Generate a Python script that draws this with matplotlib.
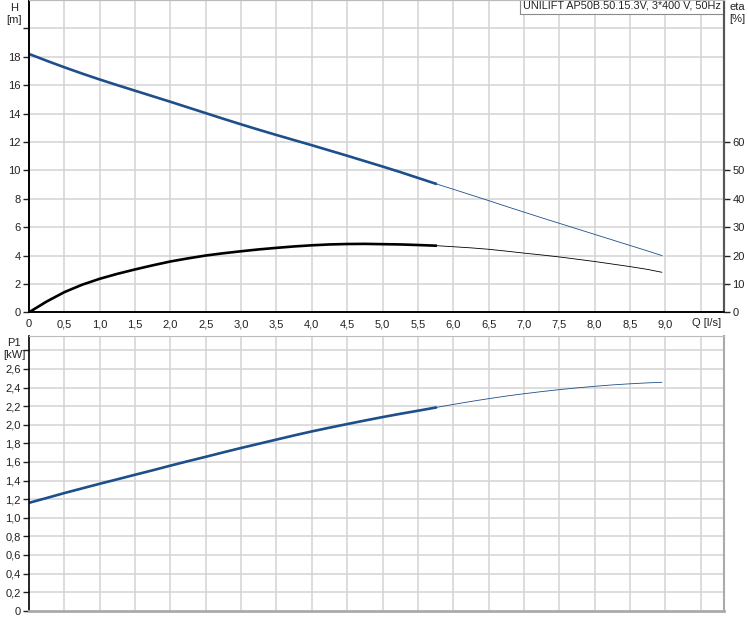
import numpy as np
import matplotlib as mpl
import matplotlib.pyplot as plt

# данные кривых насоса (расход Q, напор H, КПД eta, мощность P1)
q = np.array([0, 0.25, 0.5, 0.75, 1.0, 1.25, 1.5, 1.75, 2.0, 2.25, 2.5, 2.75,
              3.0, 3.25, 3.5, 3.75, 4.0, 4.25, 4.5, 4.75, 5.0, 5.25, 5.5, 5.77,
              6.0, 6.25, 6.5, 6.75, 7.0, 7.25, 7.5, 7.75, 8.0, 8.25, 8.5, 8.75,
              8.95])
h = np.array([18.2, 17.72, 17.26, 16.82, 16.4, 16.0, 15.61, 15.22, 14.83,
              14.43, 14.03, 13.63, 13.24, 12.86, 12.49, 12.13, 11.77, 11.4,
              11.03, 10.65, 10.27, 9.88, 9.47, 9.03, 8.67, 8.27, 7.87, 7.46,
              7.06, 6.66, 6.27, 5.88, 5.49, 5.1, 4.71, 4.32, 4.0])
eta = np.array([0, 3.8, 7.1, 9.7, 11.8, 13.55, 15.1, 16.55, 17.9, 19.0, 20.0,
                20.8, 21.5, 22.15, 22.7, 23.2, 23.6, 23.9, 24.05, 24.1, 24.0,
                23.9, 23.7, 23.45, 23.1, 22.7, 22.2, 21.55, 20.85, 20.2, 19.5,
                18.7, 17.9, 17.0, 16.1, 15.1, 14.1])
p1 = np.array([1.16, 1.212, 1.265, 1.315, 1.365, 1.413, 1.462, 1.51, 1.56,
               1.608, 1.655, 1.703, 1.75, 1.795, 1.84, 1.885, 1.928, 1.968,
               2.007, 2.045, 2.082, 2.117, 2.15, 2.187, 2.218, 2.25, 2.28,
               2.308, 2.333, 2.356, 2.377, 2.396, 2.413, 2.428, 2.44, 2.45,
               2.456])
q_duty_max = 5.77

q_ticks = [0, 0.5, 1.0, 1.5, 2.0, 2.5, 3.0, 3.5, 4.0, 4.5, 5.0, 5.5, 6.0,
           6.5, 7.0, 7.5, 8.0, 8.5, 9.0]
q_labels = ['0', '0,5', '1,0', '1,5', '2,0', '2,5', '3,0', '3,5', '4,0', '4,5',
            '5,0', '5,5', '6,0', '6,5', '7,0', '7,5', '8,0', '8,5', '9,0']
h_ticks = [0, 2, 4, 6, 8, 10, 12, 14, 16, 18, 20]
h_labels = ['0', '2', '4', '6', '8', '10', '12', '14', '16', '18', '']
eta_ticks = [0, 10, 20, 30, 40, 50, 60]
p_ticks = [0, 0.2, 0.4, 0.6, 0.8, 1.0, 1.2, 1.4, 1.6, 1.8, 2.0, 2.2, 2.4, 2.6, 2.8]
p_labels = ['0', '0,2', '0,4', '0,6', '0,8', '1,0', '1,2', '1,4', '1,6', '1,8',
            '2,0', '2,2', '2,4', '2,6', '']
title = 'UNILIFT AP50B.50.15.3V, 3*400 V, 50Hz'

blue = '#1d4f8a'
grid_c = '#d3d3d3'
txt_c = '#222222'
mpl.rcParams['font.family'] = ['Liberation Sans', 'DejaVu Sans']
mpl.rcParams['font.size'] = 8

W, H = 748, 625
fig = plt.figure(figsize=(W / 100, H / 100), dpi=100)

x0, x1 = 29 / W, 724 / W
ax1 = fig.add_axes([x0, 1 - 312.3 / H, x1 - x0, 312.3 / H])
ax2 = fig.add_axes([x0, 1 - 610.7 / H, x1 - x0, (610.7 - 336) / H])

duty = q <= q_duty_max
rest = q >= q_duty_max
grid_x = np.arange(0.5, 9.6, 0.5)

# верхний график: напор и КПД
xmax = 9.83
ax1.set_xlim(0, xmax)
ax1.set_ylim(0, 22.0)
ax1.set_xticks(q_ticks)
ax1.set_xticklabels(q_labels)
ax1.set_yticks(h_ticks)
ax1.set_yticklabels(h_labels)
for x in grid_x:
    ax1.axvline(x, color=grid_c, lw=1.1, zorder=0)
for y in h_ticks[1:]:
    ax1.axhline(y, color=grid_c, lw=1.1, zorder=0)
ax1.tick_params(axis='x', length=0, pad=5, colors=txt_c)
ax1.tick_params(axis='y', length=4, width=1, pad=2, colors=txt_c)

ax1.plot(q[duty], h[duty], color=blue, lw=1.9, solid_capstyle='butt')
ax1.plot(q[rest], h[rest], color=blue, lw=0.6)

ax1r = ax1.twinx()
ax1r.set_ylim(0, 110)
ax1r.set_yticks(eta_ticks)
ax1r.tick_params(axis='y', length=4, width=1, pad=2, colors=txt_c)
ax1r.plot(q[duty], eta[duty], color='black', lw=1.9, solid_capstyle='butt')
ax1r.plot(q[rest], eta[rest], color='black', lw=0.6)

for a in (ax1, ax1r):
    a.spines['top'].set_color('#bbbbbb')
    a.spines['left'].set_color('black')
    a.spines['bottom'].set_color('black')
    a.spines['right'].set_color('#555555')
    a.spines['right'].set_linewidth(1.5)
    a.spines['left'].set_linewidth(1.2)
    a.spines['bottom'].set_linewidth(1.2)

ax1.text((707 - 29) / 695, -0.035, 'Q [l/s]', transform=ax1.transAxes,
         ha='center', va='center', color=txt_c)
ax1.text(0.996, 0.999, title, transform=ax1.transAxes, ha='right', va='top',
         color=txt_c, fontsize=7.8,
         bbox=dict(boxstyle='square,pad=0.3', fc='white', ec='#8a8a8a', lw=0.8),
         zorder=5)

fig.text(14 / W, 1 - 14 / H, 'H\n[m]', ha='center', va='center',
         linespacing=1.15, color=txt_c)
fig.text(737 / W, 1 - 13 / H, 'eta\n[%]', ha='center', va='center',
         linespacing=1.15, color=txt_c)

# нижний график: мощность P1
ax2.set_xlim(0, xmax)
ax2.set_ylim(0, 2.954)
ax2.set_xticks([])
ax2.set_yticks(p_ticks)
ax2.set_yticklabels(p_labels)
for x in grid_x:
    ax2.axvline(x, color=grid_c, lw=1.1, zorder=0)
for y in p_ticks[1:]:
    ax2.axhline(y, color=grid_c, lw=1.1, zorder=0)
ax2.tick_params(axis='y', length=4, width=1, pad=2, colors=txt_c)
ax2.plot(q[duty], p1[duty], color=blue, lw=1.9, solid_capstyle='butt')
ax2.plot(q[rest], p1[rest], color=blue, lw=0.6)
ax2.spines['left'].set_color('black')
ax2.spines['left'].set_linewidth(1.2)
ax2.spines['top'].set_color('#bbbbbb')
ax2.spines['right'].set_color('#aaaaaa')
ax2.spines['right'].set_linewidth(1.5)
ax2.spines['bottom'].set_color('#aaaaaa')
ax2.spines['bottom'].set_linewidth(2)

fig.text(14 / W, 1 - 349 / H, 'P1\n[kW]', ha='center', va='center',
         linespacing=1.15, color=txt_c)

plt.savefig('out.png', dpi=100)
